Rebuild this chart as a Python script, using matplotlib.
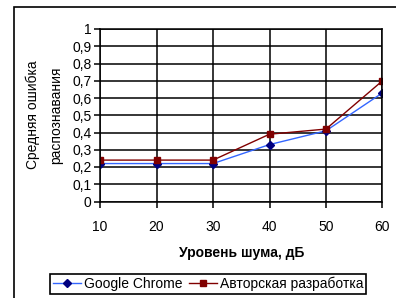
import matplotlib.pyplot as plt
from matplotlib.patches import Rectangle

plt.rcParams['font.family'] = ['Liberation Sans', 'DejaVu Sans']

# data
noise = ["10", "20", "30", "40", "50", "60"]
chrome = [0.22, 0.22, 0.22, 0.33, 0.41, 0.63]
author = [0.24, 0.24, 0.24, 0.39, 0.42, 0.70]
yticks = [0, 0.1, 0.2, 0.3, 0.4, 0.5, 0.6, 0.7, 0.8, 0.9, 1]

W, H = 396, 298
fig = plt.figure(figsize=(W / 100, H / 100), dpi=100)

# outer chart frame (Excel style)
fig.patches.append(Rectangle((14 / W, -0.1), 1.0, 1.1 - 6.5 / H,
                             transform=fig.transFigure, fill=False,
                             edgecolor="black", linewidth=1.2))

ax = fig.add_axes([100 / W, 1 - 201.5 / H, 282.5 / W, 172.5 / H])
x = list(range(len(noise)))

ax.plot(x, chrome, color="#3366FF", linewidth=1, marker="D", markersize=4,
        markerfacecolor="#000080", markeredgecolor="#000080", label="Google Chrome")
ax.plot(x, author, color="#800000", linewidth=1, marker="s", markersize=5,
        markerfacecolor="#800000", markeredgecolor="#800000", label="Авторская разработка")

ax.set_xlim(0, len(noise) - 1)
ax.set_ylim(0, 1)
ax.set_xticks(x)
ax.set_xticklabels(noise)
ax.set_yticks(yticks)
ax.set_yticklabels([("%g" % v).replace(".", ",") for v in yticks])
ax.grid(True, color="black", linewidth=1.1)
ax.set_axisbelow(True)
for s in ax.spines.values():
    s.set_linewidth(1.1)
ax.tick_params(axis="both", labelsize=10, length=4, width=1.1, direction="out")
ax.tick_params(axis="y", pad=2)
ax.tick_params(axis="x", pad=9)

ax.set_xlabel("Уровень шума, дБ", fontsize=10, fontweight="bold", labelpad=9)
fig.text(33 / W, 1 - 115 / H, "Средняя ошибка", rotation=90, fontsize=10,
         ha="center", va="center")
fig.text(56 / W, 1 - 115 / H, "распознавания", rotation=90, fontsize=10,
         ha="center", va="center")

leg = fig.legend(loc="center", bbox_to_anchor=(208 / W, 14 / H), ncol=2,
                 fontsize=10, handlelength=2.0, columnspacing=0.5,
                 handletextpad=0.2, borderpad=0.2, borderaxespad=0,
                 fancybox=False, framealpha=1, edgecolor="black")
leg.get_frame().set_linewidth(1.2)

fig.savefig("out.png", dpi=100)
